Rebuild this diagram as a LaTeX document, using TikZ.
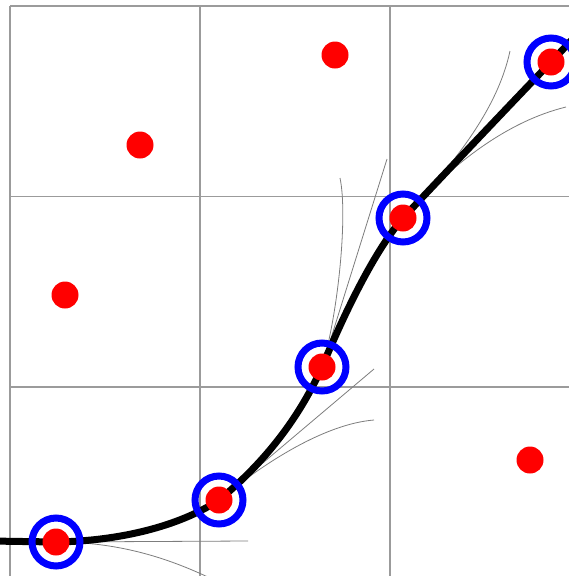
\documentclass[tikz,border=0pt]{standalone}
\usetikzlibrary{positioning}
\definecolor{gridgray}{RGB}{155,155,155}
\definecolor{fangray}{RGB}{125,125,125}
\definecolor{ringblue}{RGB}{0,0,255}
\definecolor{dotred}{RGB}{255,0,0}

\begin{document}
\begin{tikzpicture}[x=1pt, y=-1pt,
  gridline/.style={gridgray, line width=1.2pt},
  fan/.style={fangray, line width=0.8pt},
  spline/.style={black, line width=7pt},
  dot/.style={circle, fill=dotred, minimum size=27pt, inner sep=0pt},
  ring/.style={circle, draw=ringblue, line width=7pt, minimum size=48pt, inner sep=0pt}]
  \useasboundingbox (0,0) rectangle (569,576);
  \clip (0,0) rectangle (569,576);

  % Grid of cells
  \foreach \gx in {10,200,390}
    \draw[gridline] (\gx,6) -- (\gx,578);
  \foreach \gy in {6,196.5,387}
    \draw[gridline] (10,\gy) -- (580,\gy);

  % Samples on the curve
  \coordinate (p0) at (56,542);
  \coordinate (p1) at (219,500);
  \coordinate (p2) at (322,367);
  \coordinate (p3) at (403,218);
  \coordinate (p4) at (551,62);
  \coordinate (entry) at (-10,541);
  \coordinate (exit) at (585,26);

  % Fan ends
  \coordinate (f0a) at (248,541);
  \coordinate (f0b) at (214,580);
  \coordinate (f1a) at (374,369);
  \coordinate (f1b) at (374,420);
  \coordinate (f2a) at (387,159);
  \coordinate (f2b) at (340,178);
  \coordinate (f3a) at (510,51);
  \coordinate (f3b) at (566,107);

  % Thin candidate curves
  \draw[fan] (p0) -- (f0a);
  \draw[fan] (p0) .. controls (115,542) and (165,556) .. (f0b);
  \draw[fan] (p1) -- (f1a);
  \draw[fan] (p1) .. controls (265,462) and (325,424) .. (f1b);
  \draw[fan] (p2) -- (f2a);
  \draw[fan] (p2) .. controls (338,315) and (348,215) .. (f2b);
  \draw[fan] (p3) .. controls (450,168) and (497,112) .. (f3a);
  \draw[fan] (p3) .. controls (450,166) and (505,122) .. (f3b);

  % Thick spline
  \draw[spline] (entry) -- (p0)
    .. controls (120,541) and (180,526) .. (p1)
    .. controls (258,468) and (296,425) .. (p2)
    .. controls (350,300) and (378,247) .. (p3)
    .. controls (450,168) and (505,110) .. (p4)
    -- (exit);

  % Rings on the chosen samples
  \node[ring] (r0) at (p0) {};
  \node[ring] (r1) at (p1) {};
  \node[ring] (r2) at (p2) {};
  \node[ring] (r3) at (p3) {};
  \node[ring] (r4) at (p4) {};

  % Red samples
  \node[dot] (d0) at (p0) {};
  \node[dot] (d1) at (p1) {};
  \node[dot] (d2) at (p2) {};
  \node[dot] (d3) at (p3) {};
  \node[dot] (d4) at (p4) {};
  \node[dot] (d5) at (140,145) {};
  \node[dot] (d6) at (335,55) {};
  \node[dot] (d7) at (65,295) {};
  \node[dot] (d8) at (530,460) {};
\end{tikzpicture}
\end{document}
